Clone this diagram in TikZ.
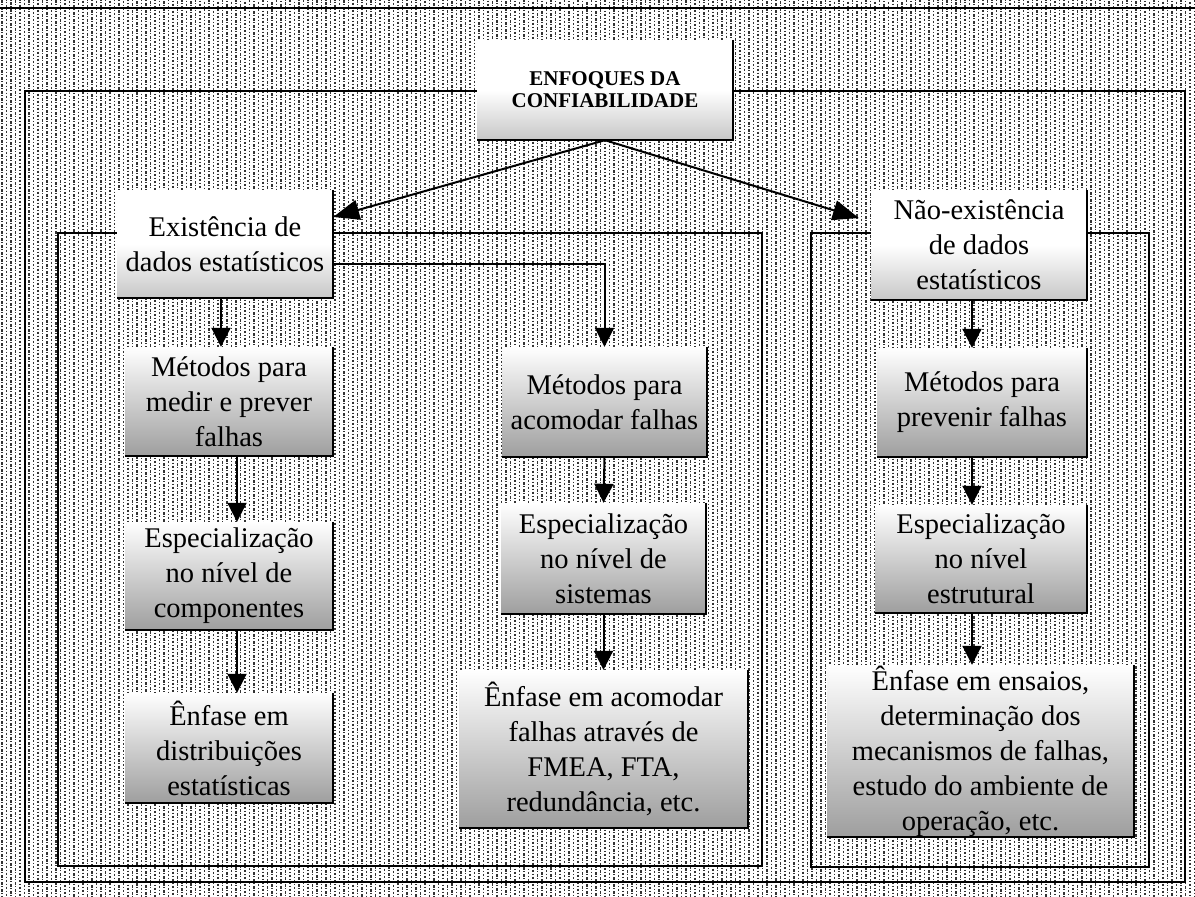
\documentclass[tikz,border=0pt]{standalone}
\usepackage{fontspec}
\usetikzlibrary{arrows.meta}
\newfontfamily\tnr{Liberation Serif}
\newcommand\boxfont{\tnr\fontsize{28.5}{35}\selectfont}
\newcommand\titlefont{\tnr\bfseries\fontsize{21}{22}\selectfont}
\tikzset{
  hatch/.style={black!80, line width=1.2pt, dash pattern=on 2.5pt off 1.5pt on 1pt off 2pt},
  frame/.style={line width=2pt},
  edge/.style={line width=2.4pt},
  box/.style={inner sep=0pt, align=center, font=\boxfont, top color=white, bottom color=black!38},
  headbox/.style={box, top color=white, bottom color=black!22, middle color=white},
  titlebox/.style={headbox, font=\titlefont},
  arr/.style={line width=2pt, -{Triangle[width=19pt,length=19pt]}},
  bigarr/.style={line width=2pt, -{Triangle[width=20pt,length=26pt]}},
}
\begin{document}
\begin{tikzpicture}[x=1pt,y=-1pt]
\useasboundingbox (0,0) rectangle (1195,897);
\fill[white] (0,0) rectangle (1195,897);

% background hatching
\foreach \i in {0,...,265}{
  \pgfmathsetmacro\xx{2+\i*4.5}
  \pgfmathsetmacro\ph{mod(\i*2.3,7)}
  \draw[hatch, dash phase=\ph pt] (\xx,0) -- (\xx,897);
}

% frames
\draw[frame] (0,8) -- (1195,8);
\draw[frame] (25,91) rectangle (1185,882);
\draw[frame] (58,233) rectangle (762,866);
\draw[frame] (811,233) rectangle (1149,867);

% boxes
\node[titlebox, minimum width=256pt, minimum height=100pt] (enf) at (605,90)
  {ENFOQUES DA\\CONFIABILIDADE};
\node[headbox, minimum width=216pt, minimum height=108pt] (ex) at (225,244)
  {Existência de\\dados estatísticos};
\node[headbox, minimum width=216pt, minimum height=110pt] (ne) at (979,245)
  {Não-existência\\de dados\\estatísticos};

\node[box, minimum width=208pt, minimum height=109pt] (m1) at (229,401.5)
  {Métodos para\\medir e prever\\falhas};
\node[box, minimum width=208pt, minimum height=108pt] (m2) at (229,576)
  {Especialização\\no nível de\\componentes};
\node[box, minimum width=208pt, minimum height=110pt] (m3) at (229,748)
  {Ênfase em\\distribuições\\estatísticas};

\node[box, minimum width=205pt, minimum height=110pt] (a1) at (604.5,402)
  {Métodos para\\acomodar falhas};
\node[box, minimum width=205pt, minimum height=111pt] (a2) at (603.5,558.5)
  {Especialização\\no nível de\\sistemas};
\node[box, minimum width=289pt, minimum height=158pt] (a3) at (603.5,749)
  {Ênfase em acomodar\\falhas através de\\FMEA, FTA,\\redundância, etc.};

\node[box, minimum width=210pt, minimum height=109pt] (p1) at (982,402.5)
  {Métodos para\\prevenir falhas};
\node[box, minimum width=212pt, minimum height=108pt] (p2) at (981,559)
  {Especialização\\no nível\\estrutural};
\node[box, minimum width=307pt, minimum height=172pt] (p3) at (980.5,751)
  {Ênfase em ensaios,\\determinação dos\\mecanismos de falhas,\\estudo do ambiente de\\operação, etc.};

% shadow edges on the right and bottom of each box
\foreach \n in {enf,ex,ne,m1,m2,m3,a1,a2,a3,p1,p2,p3}
  \draw[edge] (\n.north east) -- (\n.south east) -- (\n.south west);

% connectors
\draw[bigarr] (enf.south) -- ([yshift=27pt]ex.east);
\draw[bigarr] (enf.south) -- ([xshift=-12pt,yshift=27pt]ne.west);

\draw[arr] ([xshift=-4pt]ex.south) -- ([xshift=-8pt]m1.north);
\draw[arr] ([xshift=8pt]m1.south) -- ([xshift=8pt]m2.north);
\draw[arr] ([xshift=8pt]m2.south) -- ([xshift=8pt]m3.north);

\draw[arr] ([yshift=-20pt]ex.east) -| (a1.north);
\draw[arr] (a1.south) -- (a2.north);
\draw[arr] (a2.south) -- (a3.north);

\draw[arr] ([xshift=-7pt]ne.south) -- ([xshift=-10pt]p1.north);
\draw[arr] ([xshift=-10pt]p1.south) -- ([xshift=-9pt]p2.north);
\draw[arr] ([xshift=-9pt]p2.south) -- ([xshift=-8.5pt]p3.north);
\end{tikzpicture}
\end{document}
